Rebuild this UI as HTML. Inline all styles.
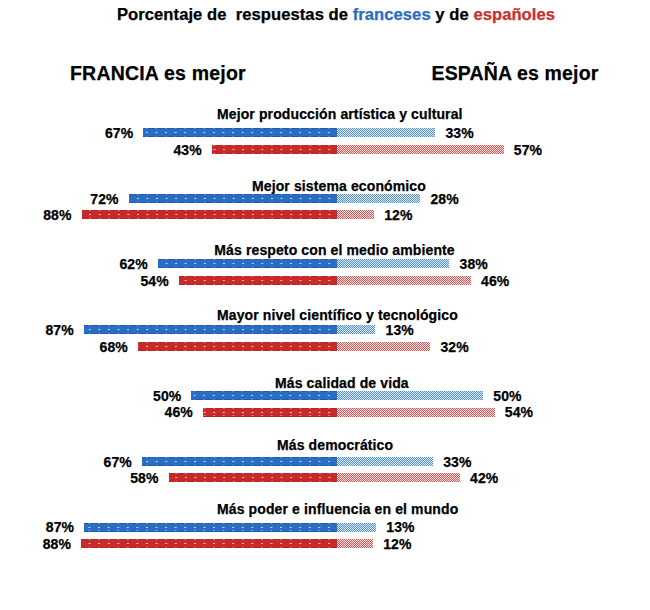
<!DOCTYPE html>
<html><head><meta charset="utf-8">
<style>
html,body{margin:0;padding:0;background:#fff;}
body{width:650px;height:610px;position:relative;overflow:hidden;font-family:"Liberation Sans",sans-serif;font-weight:bold;color:#000;}
.t{position:absolute;white-space:pre;line-height:1;-webkit-text-stroke:0.25px currentColor;}
.b{position:absolute;}
.dots{background-image:radial-gradient(circle, rgba(255,255,255,.75) 0.6px, transparent 1.1px),linear-gradient(to right, transparent 4.3px, rgba(255,255,255,.4) 4.3px, rgba(255,255,255,.4) 5.3px, transparent 5.3px),linear-gradient(to right, transparent 4.3px, rgba(255,255,255,.4) 4.3px, rgba(255,255,255,.4) 5.3px, transparent 5.3px);background-size:9.58px 100%,9.58px 1.2px,9.58px 1.2px;background-repeat:repeat-x;background-position:right 3.2px top 0,right 3.2px top,right 3.2px bottom;}
.bl{background-color:#2a6ec4;box-shadow:inset 0 1px 0 rgba(0,40,140,.25),inset 0 -1px 0 rgba(0,40,140,.3);}
.rd{background-color:#c8292b;box-shadow:inset 0 1px 0 rgba(120,0,0,.12),inset 0 -1px 0 rgba(120,0,0,.15);}
.blc{background-color:#fff;background-image:conic-gradient(#4f8bd8 25%, #e6eff9 0 50%, #4f8bd8 0 75%, #e6eff9 0);background-size:2px 2px;}
.rdc{background-color:#fff;background-image:conic-gradient(#d55454 25%, #fae6e6 0 50%, #d55454 0 75%, #fae6e6 0);background-size:2px 2px;}
</style></head><body>
<div class="t" style="left:117px;top:6.55px;font-size:16.6px;letter-spacing:0.05px;">Porcentaje de  respuestas de <span style="color:#2a6cc0">franceses</span> y de <span style="color:#c8302e">españoles</span></div>
<div class="t" style="left:70px;top:63.79px;font-size:19.5px;letter-spacing:0.2px;">FRANCIA es mejor</div>
<div class="t" style="left:431.5px;top:63.79px;font-size:19.5px;letter-spacing:0.15px;">ESPAÑA es mejor</div>
<div class="t" style="left:217px;top:107.15px;font-size:14px;letter-spacing:0.12px;">Mejor producción artística y cultural</div>
<div class="b bl dots" style="left:143.20px;top:128.1px;width:193.80px;height:9.0px"></div>
<div class="b blc" style="left:337.0px;top:128.1px;width:98.10px;height:9.0px"></div>
<div class="t" style="right:516.80px;top:126.05px;font-size:14px;text-align:right;letter-spacing:0.1px;">67%</div>
<div class="t" style="left:445.40000000000003px;top:126.05px;font-size:14px;letter-spacing:0.1px;">33%</div>
<div class="b rd dots" style="left:211.70px;top:145.2px;width:125.30px;height:9.0px"></div>
<div class="b rdc" style="left:337.0px;top:145.2px;width:166.50px;height:9.0px"></div>
<div class="t" style="right:448.30px;top:143.15px;font-size:14px;text-align:right;letter-spacing:0.1px;">43%</div>
<div class="t" style="left:513.8px;top:143.15px;font-size:14px;letter-spacing:0.1px;">57%</div>
<div class="t" style="left:252px;top:179.15px;font-size:14px;letter-spacing:0.12px;">Mejor sistema económico</div>
<div class="b bl dots" style="left:128.60px;top:194.1px;width:208.40px;height:9.0px"></div>
<div class="b blc" style="left:337.0px;top:194.1px;width:83.10px;height:9.0px"></div>
<div class="t" style="right:531.40px;top:192.05px;font-size:14px;text-align:right;letter-spacing:0.1px;">72%</div>
<div class="t" style="left:430.40000000000003px;top:192.05px;font-size:14px;letter-spacing:0.1px;">28%</div>
<div class="b rd dots" style="left:81.50px;top:210.0px;width:255.50px;height:9.0px"></div>
<div class="b rdc" style="left:337.0px;top:210.0px;width:36.90px;height:9.0px"></div>
<div class="t" style="right:578.50px;top:207.95px;font-size:14px;text-align:right;letter-spacing:0.1px;">88%</div>
<div class="t" style="left:384.2px;top:207.95px;font-size:14px;letter-spacing:0.1px;">12%</div>
<div class="t" style="left:214.3px;top:242.65px;font-size:14px;letter-spacing:0.12px;">Más respeto con el medio ambiente</div>
<div class="b bl dots" style="left:157.70px;top:259.4px;width:179.30px;height:9.0px"></div>
<div class="b blc" style="left:337.0px;top:259.4px;width:112.20px;height:9.0px"></div>
<div class="t" style="right:502.30px;top:257.35px;font-size:14px;text-align:right;letter-spacing:0.1px;">62%</div>
<div class="t" style="left:459.5px;top:257.35px;font-size:14px;letter-spacing:0.1px;">38%</div>
<div class="b rd dots" style="left:178.80px;top:275.8px;width:158.20px;height:9.0px"></div>
<div class="b rdc" style="left:337.0px;top:275.8px;width:133.80px;height:9.0px"></div>
<div class="t" style="right:481.20px;top:273.75px;font-size:14px;text-align:right;letter-spacing:0.1px;">54%</div>
<div class="t" style="left:481.1px;top:273.75px;font-size:14px;letter-spacing:0.1px;">46%</div>
<div class="t" style="left:217px;top:307.65px;font-size:14px;letter-spacing:0.12px;">Mayor nivel científico y tecnológico</div>
<div class="b bl dots" style="left:83.80px;top:325.3px;width:253.20px;height:9.0px"></div>
<div class="b blc" style="left:337.0px;top:325.3px;width:38.30px;height:9.0px"></div>
<div class="t" style="right:576.20px;top:323.25px;font-size:14px;text-align:right;letter-spacing:0.1px;">87%</div>
<div class="t" style="left:385.6px;top:323.25px;font-size:14px;letter-spacing:0.1px;">13%</div>
<div class="b rd dots" style="left:137.90px;top:341.9px;width:199.10px;height:9.0px"></div>
<div class="b rdc" style="left:337.0px;top:341.9px;width:93.10px;height:9.0px"></div>
<div class="t" style="right:522.10px;top:339.85px;font-size:14px;text-align:right;letter-spacing:0.1px;">68%</div>
<div class="t" style="left:440.40000000000003px;top:339.85px;font-size:14px;letter-spacing:0.1px;">32%</div>
<div class="t" style="left:275px;top:376.15px;font-size:14px;letter-spacing:0.12px;">Más calidad de vida</div>
<div class="b bl dots" style="left:191.40px;top:391.1px;width:145.60px;height:9.0px"></div>
<div class="b blc" style="left:337.0px;top:391.1px;width:146.00px;height:9.0px"></div>
<div class="t" style="right:468.60px;top:389.05px;font-size:14px;text-align:right;letter-spacing:0.1px;">50%</div>
<div class="t" style="left:493.3px;top:389.05px;font-size:14px;letter-spacing:0.1px;">50%</div>
<div class="b rd dots" style="left:202.90px;top:407.5px;width:134.10px;height:9.0px"></div>
<div class="b rdc" style="left:337.0px;top:407.5px;width:157.50px;height:9.0px"></div>
<div class="t" style="right:457.10px;top:405.45px;font-size:14px;text-align:right;letter-spacing:0.1px;">46%</div>
<div class="t" style="left:504.8px;top:405.45px;font-size:14px;letter-spacing:0.1px;">54%</div>
<div class="t" style="left:277px;top:438.15px;font-size:14px;letter-spacing:0.12px;">Más democrático</div>
<div class="b bl dots" style="left:141.90px;top:456.9px;width:195.10px;height:9.0px"></div>
<div class="b blc" style="left:337.0px;top:456.9px;width:95.90px;height:9.0px"></div>
<div class="t" style="right:518.10px;top:454.85px;font-size:14px;text-align:right;letter-spacing:0.1px;">67%</div>
<div class="t" style="left:443.2px;top:454.85px;font-size:14px;letter-spacing:0.1px;">33%</div>
<div class="b rd dots" style="left:168.50px;top:473.0px;width:168.50px;height:9.0px"></div>
<div class="b rdc" style="left:337.0px;top:473.0px;width:122.80px;height:9.0px"></div>
<div class="t" style="right:491.50px;top:470.95px;font-size:14px;text-align:right;letter-spacing:0.1px;">58%</div>
<div class="t" style="left:470.1px;top:470.95px;font-size:14px;letter-spacing:0.1px;">42%</div>
<div class="t" style="left:217px;top:501.65px;font-size:14px;letter-spacing:0.12px;">Más poder e influencia en el mundo</div>
<div class="b bl dots" style="left:84.10px;top:522.5px;width:252.90px;height:9.0px"></div>
<div class="b blc" style="left:337.0px;top:522.5px;width:39.00px;height:9.0px"></div>
<div class="t" style="right:575.90px;top:520.45px;font-size:14px;text-align:right;letter-spacing:0.1px;">87%</div>
<div class="t" style="left:386.3px;top:520.45px;font-size:14px;letter-spacing:0.1px;">13%</div>
<div class="b rd dots" style="left:81.00px;top:538.7px;width:256.00px;height:9.0px"></div>
<div class="b rdc" style="left:337.0px;top:538.7px;width:35.90px;height:9.0px"></div>
<div class="t" style="right:579.00px;top:536.65px;font-size:14px;text-align:right;letter-spacing:0.1px;">88%</div>
<div class="t" style="left:383.2px;top:536.65px;font-size:14px;letter-spacing:0.1px;">12%</div>
</body></html>
